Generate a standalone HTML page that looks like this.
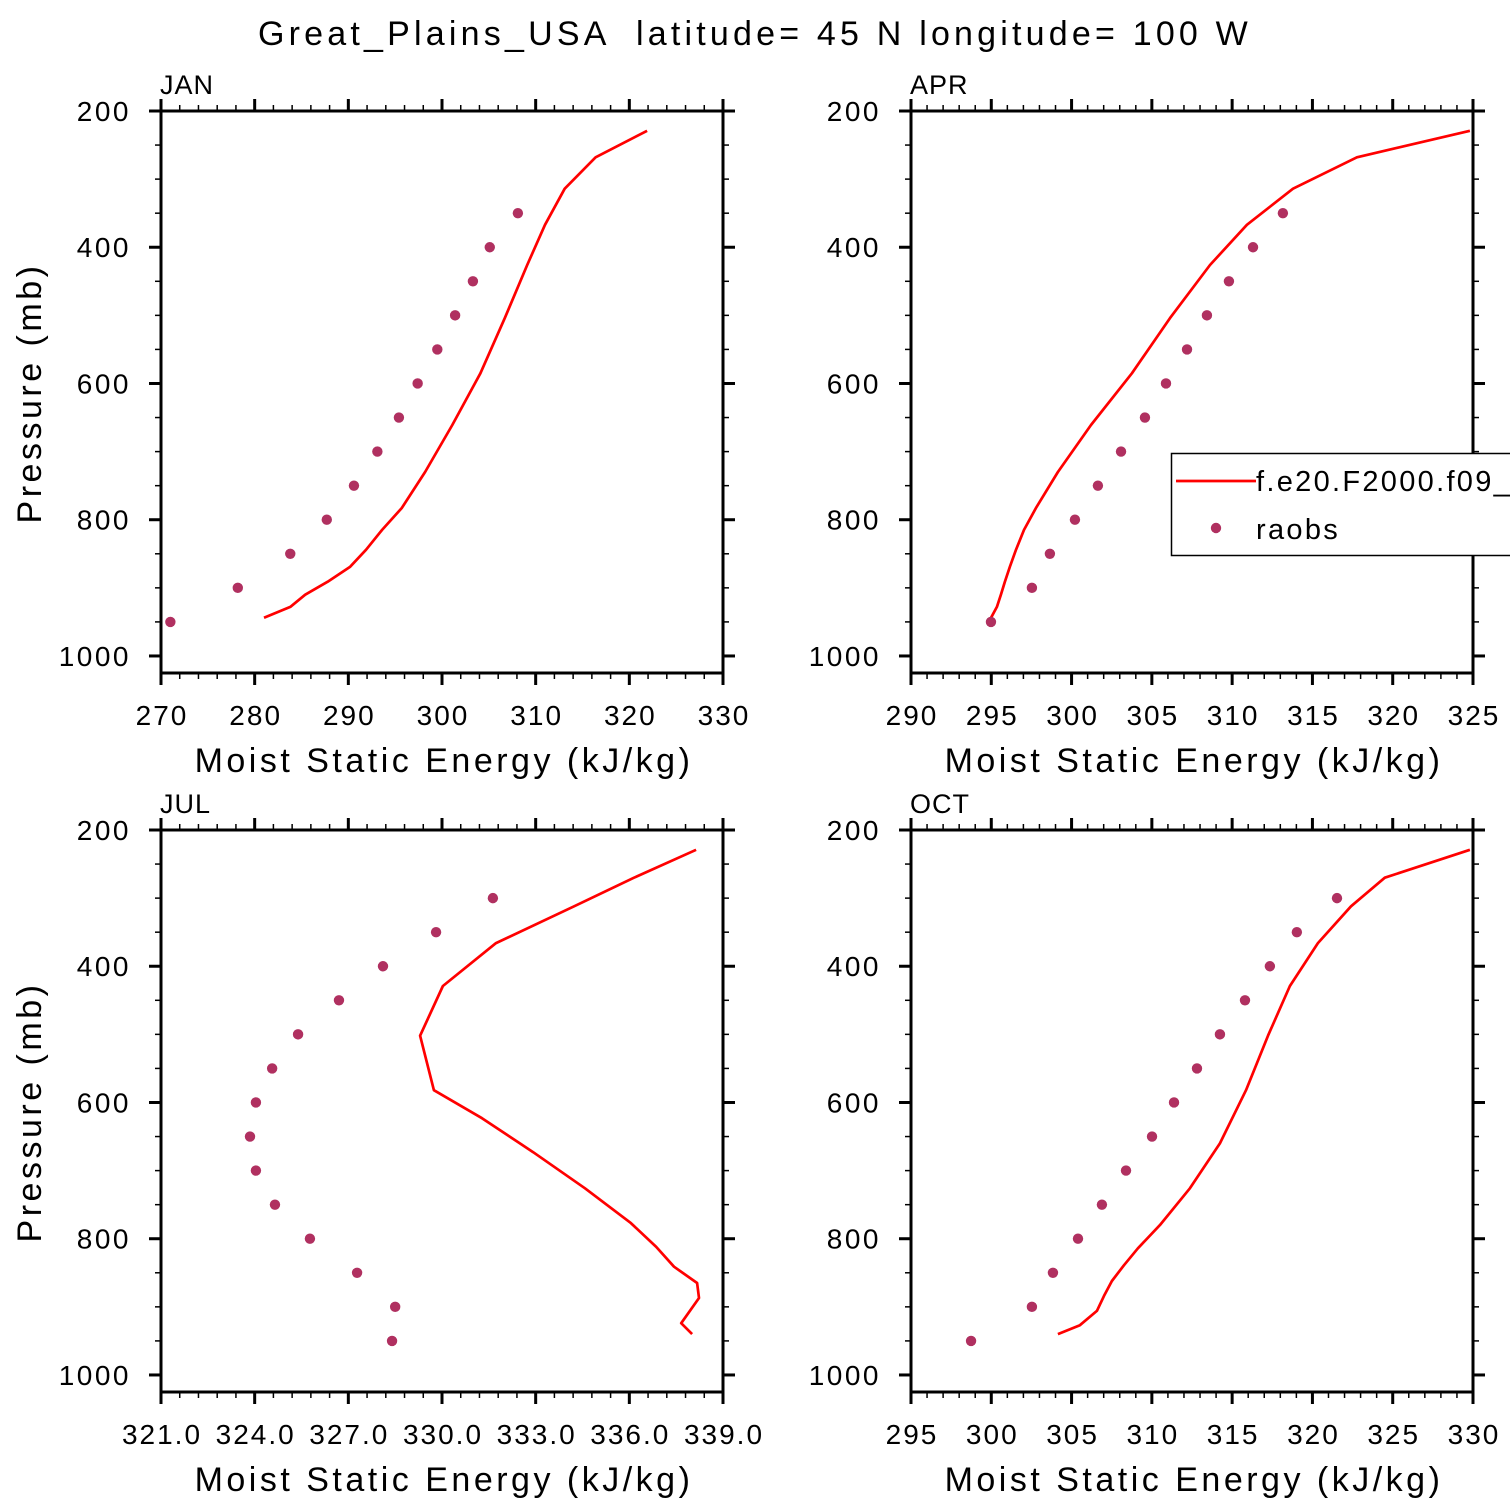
<!DOCTYPE html>
<html><head><meta charset="utf-8"><style>
html,body{margin:0;padding:0;background:#fff;}
svg{display:block;font-family:"Liberation Sans",sans-serif;}
</style></head><body>
<svg id="chart" width="1510" height="1510" viewBox="0 0 1510 1510" xmlns="http://www.w3.org/2000/svg">
<rect width="1510" height="1510" fill="#fff"/>
<text x="755" y="45" font-size="34" text-anchor="middle" letter-spacing="4.2" xml:space="preserve">Great_Plains_USA  latitude= 45 N longitude= 100 W</text>
</svg>
<script>
const obsP = [950,900,850,800,750,700,650,600,550,500,450,400,350];
const obsP2 = [950,900,850,800,750,700,650,600,550,500,450,400,350,300];
const janModelP = [944,928,910,891,869,844,815,783,730,661,585,504,426,367,314,268,229];
const janModel = [281.0,283.8,285.4,287.8,290.2,291.9,293.6,295.7,298.2,301.1,304.1,306.7,309.1,311.0,313.1,316.4,321.9];
const janObs = [271.0,278.2,283.8,287.7,290.6,293.1,295.4,297.4,299.5,301.4,303.3,305.1,308.1];
const aprModelP = [944,928,910,891,869,844,815,783,730,661,585,504,426,367,314,268,229];
const aprModel = [294.98,295.35,295.6,295.85,296.16,296.54,297.04,297.78,299.15,301.21,303.76,306.13,308.62,310.92,313.79,317.77,324.81];
const aprObs = [294.98,297.53,298.65,300.21,301.64,303.08,304.57,305.88,307.19,308.43,309.8,311.3,313.16];
const julModelP = [940,924,887,865,841,812,777,726,673,623,582,502,429,366,312,270,229];
const julModel = [338.01,337.66,338.23,338.17,337.43,336.86,336.05,334.58,332.92,331.28,329.74,329.30,330.03,331.73,334.23,336.15,338.14];
const julObs = [328.40,328.50,327.28,325.77,324.65,324.04,323.85,324.04,324.56,325.39,326.70,328.11,329.81,331.63];
const octModelP = [940,927,906,884,862,839,814,780,726,660,582,502,429,366,312,270,229];
const octModel = [304.15,305.52,306.58,307.02,307.51,308.26,309.13,310.50,312.37,314.24,315.86,317.23,318.60,320.34,322.40,324.51,329.81];
const octObs = [298.74,302.53,303.84,305.40,306.89,308.39,310.01,311.38,312.81,314.24,315.80,317.35,319.03,321.53];
const yTicks = [200,400,600,800,1000];
const janXTicks = ["270","280","290","300","310","320","330"];
const aprXTicks = ["290","295","300","305","310","315","320","325"];
const julXTicks = ["321.0","324.0","327.0","330.0","333.0","336.0","339.0"];
const octXTicks = ["295","300","305","310","315","320","325","330"];

const svg = document.getElementById('chart');
const NS = 'http://www.w3.org/2000/svg';
function mk(tag, attrs, parent){const e=document.createElementNS(NS,tag);for(const k in attrs)e.setAttribute(k,attrs[k]);(parent||svg).appendChild(e);return e;}

function panel(key,label,x0,y0,xmin,xmax,xTickLabels,minorN,modelP,modelV,obsPr,obsV,legend){
  const W=562,H=562,pmin=200,pmax=1025;
  const g=mk('g',{});
  
  
  const sx=v=>x0+(v-xmin)/(xmax-xmin)*W;
  const sy=p=>y0+(p-pmin)/(pmax-pmin)*H;
  const pts=modelV.map((v,i)=>sx(v).toFixed(1)+','+sy(modelP[i]).toFixed(1)).join(' ');
  const line=mk('polyline',{points:pts,fill:'none',stroke:'#ff0000','stroke-width':2.7,'stroke-linejoin':'round'},g);
  
  
  obsV.forEach((v,i)=>{
    const c=mk('circle',{cx:sx(v),cy:sy(obsPr[i]),r:5.2,fill:'#b03060'},g);
    
    
  });
  const fr=mk('rect',{x:x0,y:y0,width:W,height:H,fill:'none',stroke:'#000','stroke-width':3},g);
  
  
  for(let p=200;p<=1000;p+=50){
    const maj=p%200===0, L=maj?12:6, y=sy(p);
    mk('line',{x1:x0,x2:x0-L,y1:y,y2:y,stroke:'#000','stroke-width':maj?3:1.5},g);
    mk('line',{x1:x0+W,x2:x0+W+L,y1:y,y2:y,stroke:'#000','stroke-width':maj?3:1.5},g);
  }
  yTicks.forEach(p=>{
    const t=mk('text',{x:x0-30,y:sy(p)+10,'font-size':28,'text-anchor':'end','letter-spacing':2.5},g);
    t.textContent=String(p);
    
    
  });
  const nMaj=xTickLabels.length-1;
  for(let i=0;i<=nMaj*minorN;i++){
    const maj=i%minorN===0,L=maj?12:6,x=x0+i/(nMaj*minorN)*W;
    mk('line',{x1:x,x2:x,y1:y0+H,y2:y0+H+L,stroke:'#000','stroke-width':maj?3:1.5},g);
    mk('line',{x1:x,x2:x,y1:y0,y2:y0-L,stroke:'#000','stroke-width':maj?3:1.5},g);
  }
  xTickLabels.forEach((s,i)=>{
    const t=mk('text',{x:x0+i/nMaj*W+1,y:y0+H+52,'font-size':28,'text-anchor':'middle','letter-spacing':2},g);
    t.textContent=s;
    
    
  });
  const xt=mk('text',{x:x0+W/2+2,y:y0+H+99,'font-size':34,'text-anchor':'middle','letter-spacing':3.5},g);
  xt.textContent='Moist Static Energy (kJ/kg)';
  
  
  if(x0<500){
    const yt=mk('text',{x:0,y:0,'font-size':34,'text-anchor':'middle','letter-spacing':3.5,transform:'translate(41,'+(y0+282)+') rotate(-90)'},g);
    yt.textContent='Pressure (mb)';
    
    
  }
  const lb=mk('text',{x:x0-1,y:y0-17,'font-size':27,'letter-spacing':1},g);
  lb.textContent=label;
  
  
  if(legend){
    const lg=mk('g',{},g);
    
    
    mk('rect',{x:1171.5,y:453.5,width:360,height:102,fill:'#fff',stroke:'#000','stroke-width':1.5},lg);
    mk('line',{x1:1176,x2:1256,y1:481,y2:481,stroke:'#ff0000','stroke-width':2.7},lg);
    const t1=mk('text',{x:1256,y:491,'font-size':29,'letter-spacing':2.3},lg);
    t1.textContent='f.e20.F2000.f09_f09';
    
    
    mk('circle',{cx:1216,cy:528,r:5.2,fill:'#b03060'},lg);
    const t2=mk('text',{x:1256,y:539,'font-size':29,'letter-spacing':2.3},lg);
    t2.textContent='raobs';
    
    
  }
}
panel('jan','JAN',161,111,270,330,janXTicks,5,janModelP,janModel,obsP,janObs,false);
panel('apr','APR',911,111,290,325,aprXTicks,5,aprModelP,aprModel,obsP,aprObs,true);
panel('jul','JUL',161,830,321,339,julXTicks,5,julModelP,julModel,obsP2,julObs,false);
panel('oct','OCT',911,830,295,330,octXTicks,5,octModelP,octModel,obsP2,octObs,false);
</script>
</body></html>
